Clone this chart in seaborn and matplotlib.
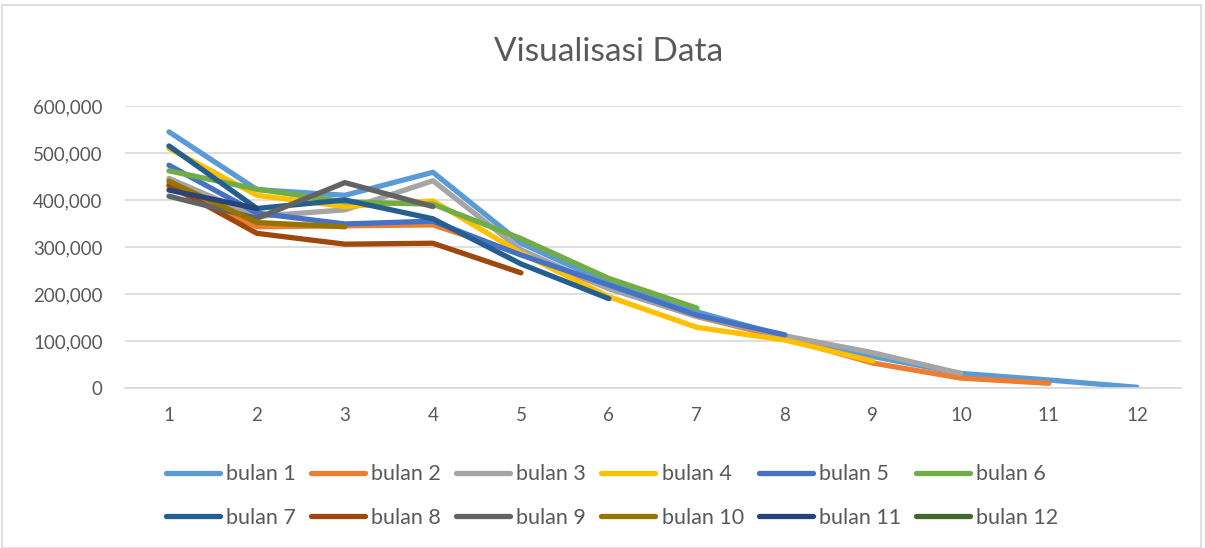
import numpy as np
import pandas as pd
import matplotlib
matplotlib.use('Agg')
import matplotlib.pyplot as plt
import matplotlib.ticker as mticker
from matplotlib.patches import Rectangle
import seaborn as sns

# values, one list per series (month cohort)
bulan_1 = [545000, 422000, 410000, 459000, 308000, 223000, 162000, 110000, 67000, 31000, 17000, 1500]
bulan_2 = [428000, 343000, 345000, 347000, 285000, 212000, 152000, 106000, 53000, 21000, 10000]
bulan_3 = [446000, 365000, 379000, 441000, 294000, 211000, 153000, 111000, 75000, 31000]
bulan_4 = [510000, 410000, 386000, 398000, 287000, 194000, 129000, 102000, 57000]
bulan_5 = [474000, 372000, 349000, 355000, 283000, 219000, 155000, 113000]
bulan_6 = [462000, 423000, 396000, 391000, 318000, 233000, 170000]
bulan_7 = [515000, 382000, 400000, 360000, 264000, 190000]
bulan_8 = [432000, 329000, 306000, 308000, 245000]
bulan_9 = [408000, 361000, 437000, 386000]
bulan_10 = [440000, 352000, 343000]
bulan_11 = [421000, 382000]
bulan_12 = [425000]

series = [bulan_1, bulan_2, bulan_3, bulan_4, bulan_5, bulan_6,
          bulan_7, bulan_8, bulan_9, bulan_10, bulan_11, bulan_12]
names = [f'bulan {i}' for i in range(1, 13)]
x_ticks = list(range(1, 13))

colors = ['#5B9BD5', '#ED7D31', '#A5A5A5', '#FFC000', '#4472C4', '#70AD47',
          '#255E91', '#9E480E', '#636363', '#997300', '#264478', '#43682B']

rows = []
for name, vals in zip(names, series):
    for i, v in enumerate(vals):
        rows.append({'periode': i + 1, 'nilai': v, 'bulan': name})
df = pd.DataFrame(rows)

sns.set_style('white')
plt.rcParams['font.family'] = ['Lato', 'DejaVu Sans']

fig = plt.figure(figsize=(12.05, 5.48), dpi=100)
ax = fig.add_axes([0.1037, 0.292, 0.8763, 0.5146])

sns.lineplot(data=df, x='periode', y='nilai', hue='bulan', hue_order=names,
             palette=colors, linewidth=3.8, estimator=None, sort=False, ax=ax)
for line in ax.get_lines():
    line.set_solid_capstyle('round')
    line.set_solid_joinstyle('round')

ax.set_xlim(0.5, 12.5)
ax.set_ylim(0, 600000)
ax.set_xticks(x_ticks)
ax.set_yticks(np.arange(0, 600001, 100000))
ax.yaxis.set_major_formatter(mticker.FuncFormatter(lambda v, p: f'{int(v):,}'))
ax.grid(axis='y', color='#D9D9D9', linewidth=1.2)
ax.set_axisbelow(True)
for s in ['top', 'right', 'left']:
    ax.spines[s].set_visible(False)
ax.spines['bottom'].set_color('#D9D9D9')
ax.spines['bottom'].set_linewidth(1.2)
ax.tick_params(axis='both', length=0, labelsize=13.5, colors='#595959')
ax.tick_params(axis='x', pad=14)
ax.tick_params(axis='y', pad=16)
ax.set_xlabel('')
ax.set_ylabel('')

fig.text(0.505, 0.905, 'Visualisasi Data', ha='center', va='center',
         fontsize=24, color='#595959')

# legend is filled row by row in the original, matplotlib fills by column
handles, labels = ax.get_legend_handles_labels()
ax.get_legend().remove()
order = [i for pair in zip(range(0, 6), range(6, 12)) for i in pair]
leg = fig.legend([handles[i] for i in order], [labels[i] for i in order],
                 loc='center', bbox_to_anchor=(0.508, 0.095),
                 ncol=6, frameon=False, fontsize=15.5, handlelength=2.5,
                 handletextpad=0.3, columnspacing=0.7, labelspacing=1.1)
for t in leg.get_texts():
    t.set_color('#595959')
for h in leg.get_lines():
    h.set_linewidth(3.8)
    h.set_solid_capstyle('round')

fig.patches.append(Rectangle((0.002, 0.0), 0.995, 0.99, transform=fig.transFigure,
                             fill=False, edgecolor='#D9D9D9', linewidth=1.2))

fig.savefig('out.png', dpi=100)
